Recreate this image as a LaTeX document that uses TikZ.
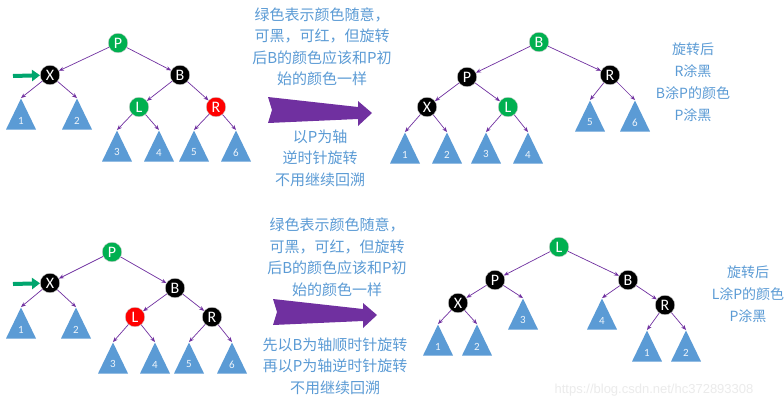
\documentclass[tikz,border=0pt]{standalone}
\usepackage{fontspec}
\setmainfont{Carlito}
\newfontfamily\cjk{Noto Sans CJK SC}
\newfontfamily\urlfont{Liberation Sans}
\usetikzlibrary{shapes.geometric,arrows.meta}

\begin{document}
\begin{tikzpicture}[x=1pt,y=-1pt,
  rbnode/.style={circle, minimum size=19.5pt, inner sep=0pt, text=white, font=\fontsize{16}{16}\selectfont, draw=white!80!black, line width=0.4pt},
  greennode/.style={rbnode, fill=nodegreen},
  blacknode/.style={rbnode, fill=black},
  rednode/.style={rbnode, fill=nodered},
  subtree/.style={isosceles triangle, isosceles triangle stretches, shape border rotate=90, minimum width=30pt, minimum height=31pt, inner sep=0pt, fill=treeblue, text=white!90!treeblue, font=\fontsize{11}{11}\selectfont, anchor=apex},
  link/.style={draw=linkpurple, line width=0.7pt, -{Stealth[length=5pt,width=4pt]}},
  pointer/.style={draw=pointgreen, line width=4pt, -{Triangle[length=8pt,width=11pt]}},
  note/.style={align=center, text=noteblue, font=\cjk\fontsize{15}{21.5}\selectfont},
  sidenote/.style={align=center, text=noteblue, font=\cjk\fontsize{14}{22}\selectfont},
  bigarrow/.style={fill=arrowpurple}]
\definecolor{nodegreen}{RGB}{0,176,80}
\definecolor{nodered}{RGB}{255,0,0}
\definecolor{treeblue}{RGB}{91,155,213}
\definecolor{linkpurple}{RGB}{112,48,160}
\definecolor{arrowpurple}{RGB}{112,48,160}
\definecolor{pointgreen}{RGB}{0,166,110}
\definecolor{noteblue}{RGB}{91,155,213}
\useasboundingbox[fill=white] (0,0) rectangle (784,408);

% case 1, before
\node[greennode] (pa) at (118,43) {P};
\node[blacknode] (xa) at (50,75) {X};
\node[blacknode] (ba) at (180,75) {B};
\node[greennode] (la) at (139,107) {L};
\node[rednode] (ra) at (216,107) {R};
\node[subtree] (ta1) at (21,98) {1};
\node[subtree] (ta2) at (77,98) {2};
\node[subtree] (ta3) at (117,130) {3};
\node[subtree] (ta4) at (159,130) {4};
\node[subtree] (ta5) at (194,130) {5};
\node[subtree] (ta6) at (236,130) {6};
\draw[link] (pa) -- (xa);
\draw[link] (pa) -- (ba);
\draw[link] (xa) -- (ta1.apex);
\draw[link] (xa) -- (ta2.apex);
\draw[link] (ba) -- (la);
\draw[link] (ba) -- (ra);
\draw[link] (la) -- (ta3.apex);
\draw[link] (la) -- (ta4.apex);
\draw[link] (ra) -- (ta5.apex);
\draw[link] (ra) -- (ta6.apex);
\coordinate (ina) at (13,76);
\draw[pointer] (ina) -- (xa);

\node[note] (noa) at (322,46.5) {绿色表示颜色随意，\\可黑，可红，但旋转\\后B的颜色应该和P初\\始的颜色一样};
\fill[bigarrow] (268,97) -- (358,107) -- (358,101) -- (372,113) -- (358,126) -- (358,119) -- (268,123) -- (272,110) -- cycle;
\node[note] (opa) at (320,158) {以P为轴\\逆时针旋转\\不用继续回溯};

% case 1, after
\node[greennode] (bb) at (539,42) {B};
\node[blacknode] (pb) at (467,77) {P};
\node[blacknode] (rb) at (610,75) {R};
\node[blacknode] (xb) at (427,107) {X};
\node[greennode] (lb) at (508,107) {L};
\node[subtree] (tb1) at (405,132) {1};
\node[subtree] (tb2) at (447,132) {2};
\node[subtree] (tb3) at (486,132) {3};
\node[subtree] (tb4) at (528,132) {4};
\node[subtree] (tb5) at (590,100) {5};
\node[subtree] (tb6) at (635,100) {6};
\draw[link] (bb) -- (pb);
\draw[link] (bb) -- (rb);
\draw[link] (pb) -- (xb);
\draw[link] (pb) -- (lb);
\draw[link] (xb) -- (tb1.apex);
\draw[link] (xb) -- (tb2.apex);
\draw[link] (lb) -- (tb3.apex);
\draw[link] (lb) -- (tb4.apex);
\draw[link] (rb) -- (tb5.apex);
\draw[link] (rb) -- (tb6.apex);
\node[sidenote] (sna) at (693,82) {旋转后\\R涂黑\\B涂P的颜色\\P涂黑};

% case 2, before
\node[greennode] (pc) at (112,252) {P};
\node[blacknode] (xc) at (50,283) {X};
\node[blacknode] (bc) at (175,288) {B};
\node[rednode] (lc) at (135,317) {L};
\node[blacknode] (rc) at (212,317) {R};
\node[subtree] (tc1) at (21,307) {1};
\node[subtree] (tc2) at (76,307) {2};
\node[subtree] (tc3) at (113,342) {3};
\node[subtree] (tc4) at (155,342) {4};
\node[subtree] (tc5) at (189,342) {5};
\node[subtree] (tc6) at (232,342) {6};
\draw[link] (pc) -- (xc);
\draw[link] (pc) -- (bc);
\draw[link] (xc) -- (tc1.apex);
\draw[link] (xc) -- (tc2.apex);
\draw[link] (bc) -- (lc);
\draw[link] (bc) -- (rc);
\draw[link] (lc) -- (tc3.apex);
\draw[link] (lc) -- (tc4.apex);
\draw[link] (rc) -- (tc5.apex);
\draw[link] (rc) -- (tc6.apex);
\coordinate (inc) at (13,284);
\draw[pointer] (inc) -- (xc);

\node[note] (noc) at (337,257) {绿色表示颜色随意，\\可黑，可红，但旋转\\后B的颜色应该和P初\\始的颜色一样};
\fill[bigarrow, shift={(5,202)}] (268,97) -- (358,107) -- (358,101) -- (372,113) -- (358,126) -- (358,119) -- (268,123) -- (272,110) -- cycle;
\node[note] (opc) at (335,366) {先以B为轴顺时针旋转\\再以P为轴逆时针旋转\\不用继续回溯};

% case 2, after
\node[greennode] (ld) at (559,247) {L};
\node[blacknode] (pd) at (495,280) {P};
\node[blacknode] (bd) at (628,280) {B};
\node[blacknode] (xd) at (458,303) {X};
\node[blacknode] (rd) at (665,305) {R};
\node[subtree] (td3) at (523,298) {3};
\node[subtree] (td4) at (602,298) {4};
\node[subtree] (td1) at (438,324) {1};
\node[subtree] (td2) at (477,324) {2};
\node[subtree] (te1) at (647,330) {1};
\node[subtree] (te2) at (686,330) {2};
\draw[link] (ld) -- (pd);
\draw[link] (ld) -- (bd);
\draw[link] (pd) -- (xd);
\draw[link] (pd) -- (td3.apex);
\draw[link] (xd) -- (td1.apex);
\draw[link] (xd) -- (td2.apex);
\draw[link] (bd) -- (td4.apex);
\draw[link] (bd) -- (rd);
\draw[link] (rd) -- (te1.apex);
\draw[link] (rd) -- (te2.apex);
\node[sidenote] (snd) at (748,294) {旋转后\\L涂P的颜色\\P涂黑};

\node[text=black!8, font=\urlfont\fontsize{13}{13}\selectfont] (url) at (654,390) {https://blog.csdn.net/hc372893308};
\end{tikzpicture}
\end{document}
